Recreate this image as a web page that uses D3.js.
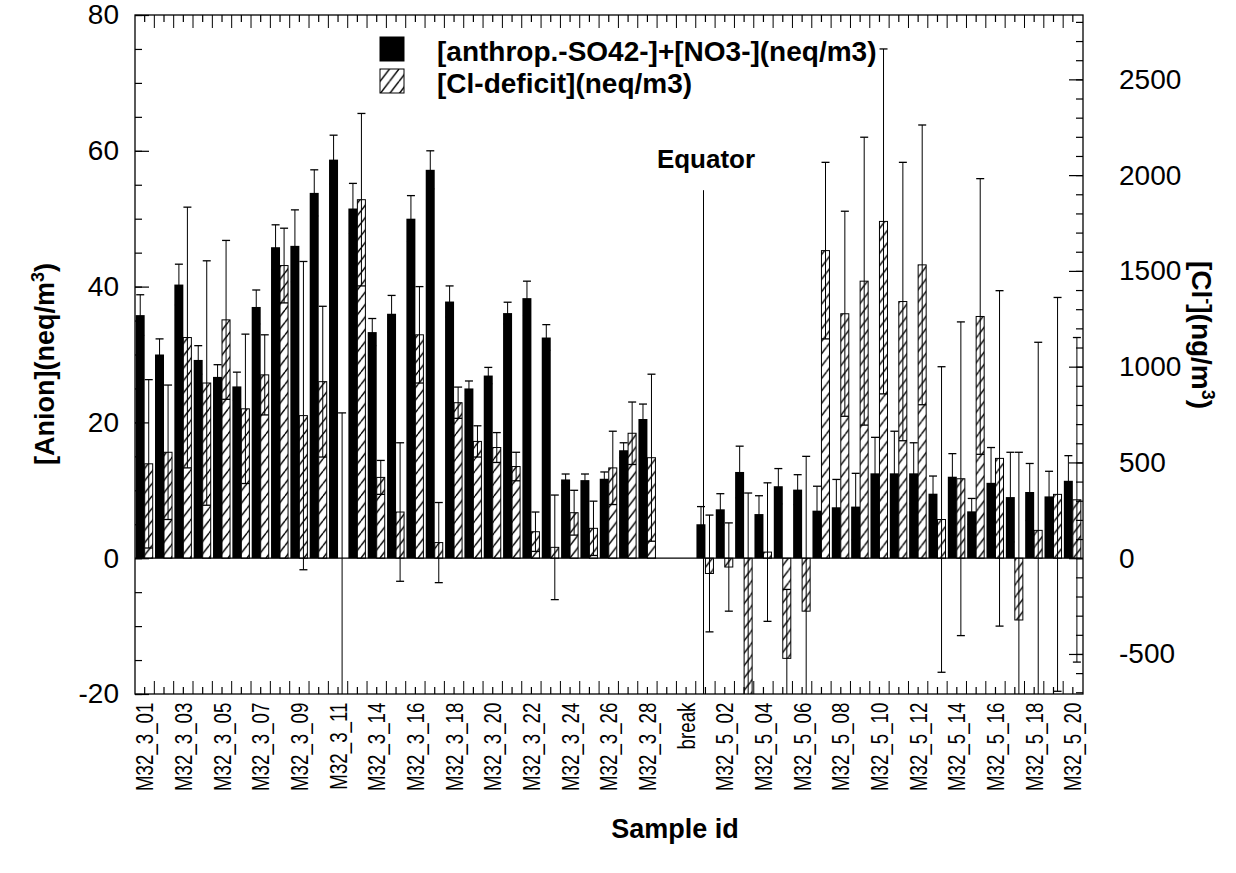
<!DOCTYPE html>
<meta charset="utf-8">
<script src="https://d3js.org/d3.v7.min.js"></script>
<style>
  body { margin: 0; background: #fff; }
  text { font-family: "Liberation Sans", Arial, Helvetica, sans-serif; fill: #000; }
</style>
<div id="chart"></div>
<script>
// sample ids along the x axis (only every second one gets a label)
var samples = ["M32_3_01","M32_3_02","M32_3_03","M32_3_04","M32_3_05","M32_3_06","M32_3_07","M32_3_08","M32_3_09","M32_3_10",
  "M32_3_11","M32_3_13","M32_3_14","M32_3_15","M32_3_16","M32_3_17","M32_3_18","M32_3_19","M32_3_20","M32_3_21",
  "M32_3_22","M32_3_23","M32_3_24","M32_3_25","M32_3_26","M32_3_27","M32_3_28","M32_3_29","break","M32_5_01",
  "M32_5_02","M32_5_03","M32_5_04","M32_5_05","M32_5_06","M32_5_07","M32_5_08","M32_5_09","M32_5_10","M32_5_11",
  "M32_5_12","M32_5_13","M32_5_14","M32_5_15","M32_5_16","M32_5_17","M32_5_18","M32_5_19","M32_5_20"];

// [anthrop.-SO42-]+[NO3-] (neq/m3) and its error
var anthrop = [35.8,30.0,40.3,29.2,26.7,25.3,37.0,45.8,46.0,53.8,
  58.7,51.5,33.3,36.0,50.0,57.2,37.8,25.0,26.9,36.1,
  38.3,32.5,11.6,11.5,11.7,15.9,20.5,null,null,5.0,
  7.2,12.7,6.5,10.6,10.1,7.0,7.5,7.6,12.5,12.5,
  12.5,9.5,12.0,6.9,11.1,9.0,9.75,9.1,11.4];
var anthropErr = [3.0,2.3,3.0,2.1,1.8,2.1,2.5,3.3,5.3,3.4,
  3.6,3.7,2.0,2.7,3.4,2.8,2.3,1.1,1.2,1.6,
  2.5,1.9,0.8,0.9,1.0,1.1,2.2,null,null,2.6,
  2.3,3.8,2.7,2.6,2.2,3.6,4.1,4.9,5.3,6.2,
  4.5,2.6,3.4,1.9,5.2,6.6,4.2,3.7,3.7];

// [Cl-deficit] (neq/m3) and its error
var clDeficit = [13.9,15.6,32.5,25.8,35.1,22.0,27.0,43.1,21.0,26.0,
  0,52.8,11.9,6.8,32.9,2.3,22.9,17.2,16.3,13.5,
  3.9,1.6,6.7,4.4,13.3,18.4,14.8,null,null,-2.25,
  -1.3,-22,0.9,-14.75,-7.8,45.3,36.0,40.8,49.6,37.8,
  43.2,5.7,11.7,35.6,14.7,-9.1,4.1,9.4,8.6];
var clDeficitErr = [12.4,9.9,19.2,18.0,11.7,11.0,5.9,5.5,22.7,11.1,
  21.4,12.7,2.5,10.2,7.1,5.9,2.3,2.3,2.2,2.1,
  2.9,7.7,3.3,4.0,5.4,4.6,12.3,null,null,8.6,
  6.5,31.6,10.2,10.15,22.8,13.0,15.1,21.2,25.4,20.5,
  20.6,22.5,23.1,20.3,24.7,24.7,27.7,29.0,23.9];

var leftTicks = [-20, 0, 20, 40, 60, 80];
var rightTicks = [-500, 0, 500, 1000, 1500, 2000, 2500];
var clMass = 35.45;          // ng of Cl- per neq
var equatorSample = "M32_5_01";
var equatorTop = 54.2;

var width = 1236, height = 873;
var plot = {left: 135, right: 1083, top: 15, bottom: 694};

var svg = d3.select("#chart").append("svg")
    .attr("width", width)
    .attr("height", height);

var x = d3.scaleBand().domain(samples).range([plot.left, 1082.5]).padding(0);
var bw = x.bandwidth();
var y = d3.scaleLinear().domain([-20, 80]).range([plot.bottom, plot.top]);
var y2 = d3.scaleLinear().domain([-20 * clMass, 80 * clMass]).range([plot.bottom, plot.top]);

// hatch pattern
var defs = svg.append("defs");
var pw = 9.5, ph = 12.4;
var pat = defs.append("pattern")
    .attr("id", "hatch")
    .attr("patternUnits", "userSpaceOnUse")
    .attr("width", pw)
    .attr("height", ph);
pat.append("rect").attr("width", pw).attr("height", ph).attr("fill", "#fff");
pat.append("path")
    .attr("d", "M" + (-pw) + "," + ph + "L0,0M0," + ph + "L" + pw + ",0M" + pw + "," + ph + "L" + (2 * pw) + ",0")
    .attr("stroke", "#000")
    .attr("stroke-width", 1.4);

defs.append("clipPath").attr("id", "clip")
  .append("rect")
    .attr("x", plot.left).attr("y", plot.top)
    .attr("width", plot.right - plot.left).attr("height", plot.bottom - plot.top);

var data = samples.map(function(s, i) {
  return {s: s, a: anthrop[i], ae: anthropErr[i], c: clDeficit[i], ce: clDeficitErr[i]};
});

var g = svg.append("g").attr("clip-path", "url(#clip)");

// black bars
g.selectAll(".bar-a")
  .data(data.filter(function(d) { return d.a != null; }))
  .enter().append("rect")
    .attr("x", function(d) { return x(d.s) + bw * 0.035; })
    .attr("width", bw * 0.465)
    .attr("y", function(d) { return y(Math.max(0, d.a)); })
    .attr("height", function(d) { return Math.abs(y(d.a) - y(0)); })
    .attr("fill", "#000");

// hatched bars
g.selectAll(".bar-c")
  .data(data.filter(function(d) { return d.c != null; }))
  .enter().append("rect")
    .attr("x", function(d) { return x(d.s) + bw * 0.5; })
    .attr("width", bw * 0.415)
    .attr("y", function(d) { return y(Math.max(0, d.c)); })
    .attr("height", function(d) { return Math.abs(y(d.c) - y(0)); })
    .attr("fill", "url(#hatch)")
    .attr("stroke", "#000")
    .attr("stroke-width", 1);

// zero line
g.append("line")
    .attr("x1", plot.left).attr("x2", plot.right)
    .attr("y1", y(0)).attr("y2", y(0))
    .attr("stroke", "#000").attr("stroke-width", 1.3);

// error bars
function errorBars(key, ekey, offset, cls) {
  var eb = g.selectAll("." + cls)
    .data(data.filter(function(d) { return d[key] != null; }))
    .enter().append("g").attr("class", cls)
    .attr("transform", function(d) { return "translate(" + (x(d.s) + bw * offset) + ",0)"; });
  eb.append("line")
    .attr("y1", function(d) { return y(d[key] - d[ekey]); })
    .attr("y2", function(d) { return y(d[key] + d[ekey]); })
    .attr("stroke", "#000").attr("stroke-width", 1);
  [-1, 1].forEach(function(sgn) {
    eb.append("line")
      .attr("x1", -4).attr("x2", 4)
      .attr("y1", function(d) { return y(d[key] + sgn * d[ekey]); })
      .attr("y2", function(d) { return y(d[key] + sgn * d[ekey]); })
      .attr("stroke", "#000").attr("stroke-width", 1.3);
  });
}
errorBars("a", "ae", 0.27, "err-a");
errorBars("c", "ce", 0.71, "err-c");

// equator line
g.append("line")
    .attr("x1", x(equatorSample) + bw * 0.4).attr("x2", x(equatorSample) + bw * 0.4)
    .attr("y1", y(equatorTop)).attr("y2", y(-20))
    .attr("stroke", "#000").attr("stroke-width", 1);

// frame
svg.append("rect")
    .attr("x", plot.left).attr("y", plot.top)
    .attr("width", plot.right - plot.left).attr("height", plot.bottom - plot.top)
    .attr("fill", "none").attr("stroke", "#000").attr("stroke-width", 1.3);

var plain = function(d) { return String(d); };

// left axis
svg.append("g").attr("transform", "translate(" + plot.left + ",0)")
    .call(d3.axisLeft(y).tickValues(leftTicks).tickSize(-14).tickSizeOuter(0).tickPadding(16).tickFormat(plain));
svg.append("g").attr("transform", "translate(" + plot.left + ",0)")
    .call(d3.axisLeft(y).tickValues(d3.range(-20, 81, 5)).tickSize(-7).tickSizeOuter(0).tickFormat(""));

// right axis
svg.append("g").attr("transform", "translate(" + plot.right + ",0)")
    .call(d3.axisRight(y2).tickValues(rightTicks).tickSize(-14).tickSizeOuter(0).tickPadding(36).tickFormat(plain));
svg.append("g").attr("transform", "translate(" + plot.right + ",0)")
    .call(d3.axisRight(y2).tickValues(d3.range(-700, 2801, 100)).tickSize(-7).tickSizeOuter(0).tickFormat(""));

// bottom axis: short ticks at sample centres, long ticks at sample edges
var xAxis = svg.append("g").attr("transform", "translate(0," + plot.bottom + ")")
    .call(d3.axisBottom(x).tickSize(-7).tickSizeOuter(0).tickPadding(8)
      .tickFormat(function(d, i) { return i % 2 === 0 ? d : ""; }));
xAxis.selectAll("text")
    .attr("transform", "rotate(-90) scale(0.78,1)")
    .attr("text-anchor", "end")
    .attr("x", -11)
    .attr("y", 0)
    .attr("dy", "0.36em")
    .style("font-size", "24px");
svg.append("g").attr("transform", "translate(0," + plot.bottom + ")")
  .selectAll("line").data(samples.slice(1)).enter().append("line")
    .attr("x1", function(d) { return x(d); }).attr("x2", function(d) { return x(d); })
    .attr("y1", 0).attr("y2", -13)
    .attr("stroke", "#000");

// top axis mirrors the bottom one
svg.append("g").attr("transform", "translate(0," + plot.top + ")")
    .call(d3.axisTop(x).tickSize(-7).tickSizeOuter(0).tickFormat(""));
svg.append("g").attr("transform", "translate(0," + plot.top + ")")
  .selectAll("line").data(samples.slice(1)).enter().append("line")
    .attr("x1", function(d) { return x(d); }).attr("x2", function(d) { return x(d); })
    .attr("y1", 0).attr("y2", 13)
    .attr("stroke", "#000");

svg.selectAll(".domain").remove();
svg.selectAll(".tick line").attr("stroke", "#000").attr("stroke-width", 1.2);
svg.selectAll(".tick text").filter(function() { return this.style.fontSize === ""; })
    .style("font-size", "28px");
svg.selectAll(".tick text").attr("font-family", null);

// axis titles
svg.append("text")
    .attr("transform", "translate(54,364) rotate(-90)")
    .attr("text-anchor", "middle")
    .style("font-size", "27px").style("font-weight", "bold")
    .call(function(t) {
      t.append("tspan").text("[Anion](neq/m");
      t.append("tspan").attr("baseline-shift", "super").style("font-size", "18px").text("3");
      t.append("tspan").text(")");
    });

svg.append("text")
    .attr("transform", "translate(1192,335) rotate(90)")
    .attr("text-anchor", "middle")
    .style("font-size", "28px").style("font-weight", "bold")
    .call(function(t) {
      t.append("tspan").text("[Cl");
      t.append("tspan").attr("baseline-shift", "super").style("font-size", "18px").text("-");
      t.append("tspan").text("](ng/m");
      t.append("tspan").attr("baseline-shift", "super").style("font-size", "18px").text("3");
      t.append("tspan").text(")");
    });

svg.append("text")
    .attr("x", 675).attr("y", 838)
    .attr("text-anchor", "middle")
    .style("font-size", "27px").style("font-weight", "bold")
    .text("Sample id");

// equator label
svg.append("text")
    .attr("x", 706).attr("y", 168)
    .attr("text-anchor", "middle")
    .style("font-size", "26px").style("font-weight", "bold")
    .text("Equator");

// legend
var legendItems = [
  {label: "[anthrop.-SO42-]+[NO3-](neq/m3)", fill: "#000"},
  {label: "[Cl-deficit](neq/m3)", fill: "url(#hatch)"}
];
var legend = svg.selectAll(".legend").data(legendItems).enter().append("g")
    .attr("class", "legend")
    .attr("transform", function(d, i) { return "translate(380," + (37 + i * 32) + ")"; });
legend.append("rect")
    .attr("width", 24).attr("height", 24)
    .attr("fill", function(d) { return d.fill; })
    .attr("stroke", "#000").attr("stroke-width", 1);
legend.append("text")
    .attr("x", 57).attr("y", 24)
    .style("font-size", "28px").style("font-weight", "bold")
    .text(function(d) { return d.label; });
</script>
